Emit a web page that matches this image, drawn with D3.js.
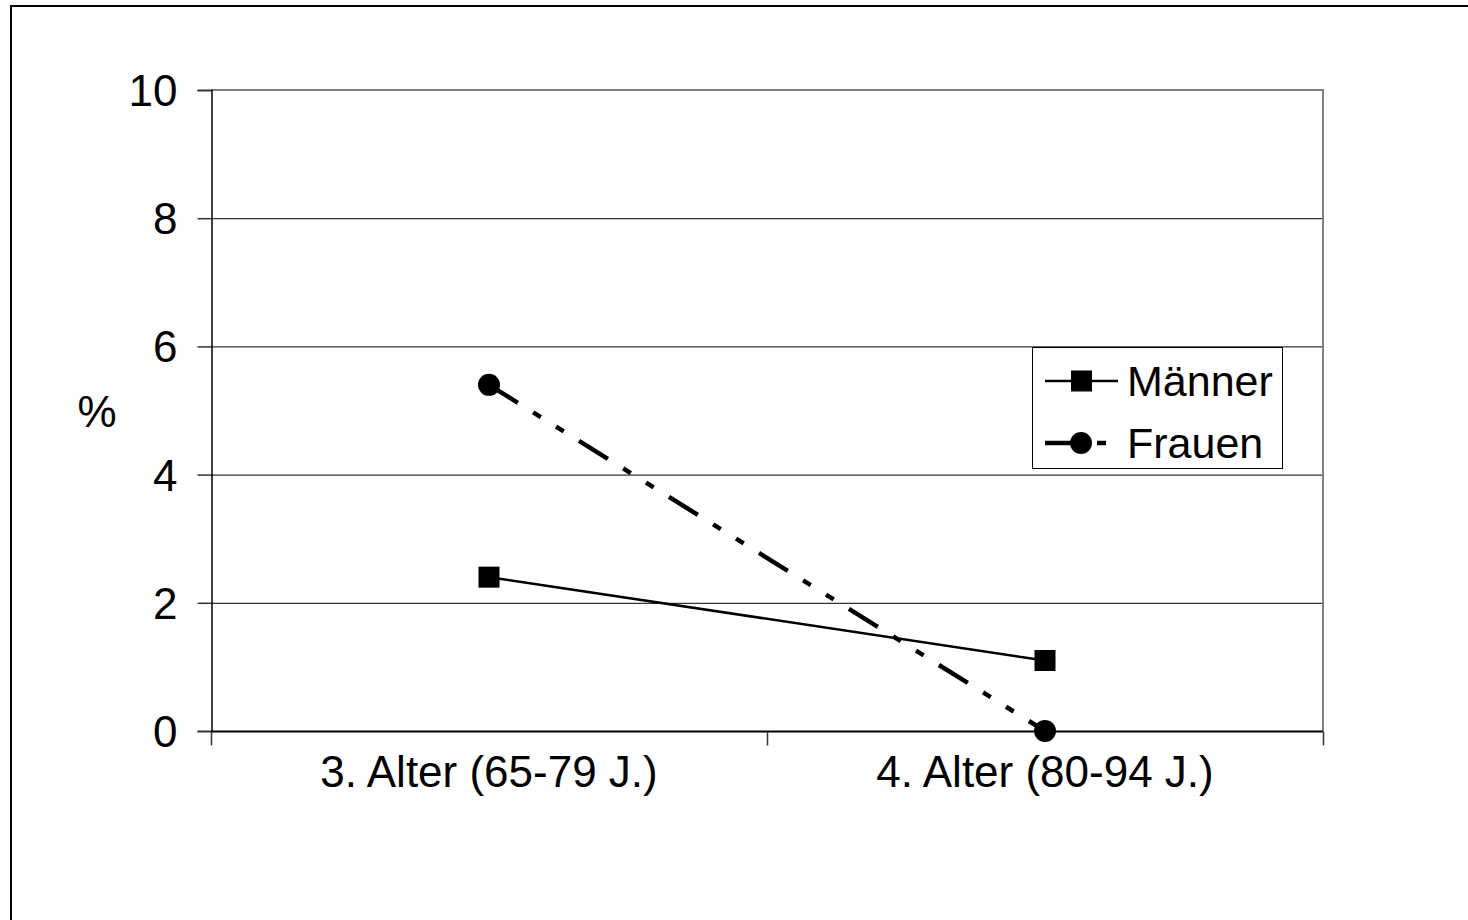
<!DOCTYPE html>
<html><head><meta charset="utf-8">
<script src="https://cdn.jsdelivr.net/npm/d3@7"></script>
<style>html,body{margin:0;padding:0;background:#fff;overflow:hidden}svg{display:block}text{font-family:"Liberation Sans",Arial,sans-serif;fill:#000}</style>
</head><body>
<script>
const categories = ["3. Alter (65-79 J.)", "4. Alter (80-94 J.)"];
const maenner = [2.4, 1.1];
const frauen = [5.4, 0.0];
const yTicks = [0, 2, 4, 6, 8, 10];
const seriesNames = ["Männer", "Frauen"];
const yLabel = "%";

const W = 1468, H = 920;
const svg = d3.select("body").append("svg").attr("width", W).attr("height", H);

// outer frame
svg.append("rect").attr("x", 11).attr("y", 6).attr("width", 1600).attr("height", 1200)
  .attr("fill", "none").attr("stroke", "#000").attr("stroke-width", 2);

const L = 211, R = 1323, T = 90, B = 731;
const x = d3.scaleBand().domain(categories).range([L, R]);
const y = d3.scaleLinear().domain([0, 10]).range([B, T]);
const cx = c => x(c) + x.bandwidth() / 2;

// gridlines
svg.append("g").selectAll("line").data(yTicks.filter(t => t > 0 && t < 10)).join("line")
  .attr("x1", L).attr("x2", R).attr("y1", d => y(d) + 0.5).attr("y2", d => y(d) + 0.5)
  .attr("stroke", "#000").attr("stroke-width", 1);

// plot border top and right (grey)
svg.append("line").attr("x1", L).attr("x2", R + 1).attr("y1", y(10)).attr("y2", y(10))
  .attr("stroke", "#808080").attr("stroke-width", 2);
svg.append("line").attr("x1", R).attr("x2", R).attr("y1", y(10)).attr("y2", B)
  .attr("stroke", "#808080").attr("stroke-width", 2);

// y axis
const yAxis = d3.axisLeft(y).tickValues(yTicks).tickSize(14).tickPadding(20).tickFormat(d3.format("d"));
const gy = svg.append("g").attr("transform", `translate(${L + 0.5},0)`).call(yAxis);
gy.select(".domain").attr("stroke", "#000").attr("stroke-width", 1.5);
gy.selectAll(".tick line").attr("stroke", "#333").attr("stroke-width", 1.5);
gy.selectAll(".tick text").attr("font-size", 44).attr("font-family", "Liberation Sans, Arial, sans-serif").attr("dy", "0.35em");

// x axis
const xAxis = d3.axisBottom(x).tickSize(0).tickPadding(24);
const gx = svg.append("g").attr("transform", `translate(0,${B + 0.5})`).call(xAxis);
gx.select(".domain").remove();
gx.append("line").attr("x1", L).attr("x2", R).attr("stroke", "#000").attr("stroke-width", 2);
gx.selectAll(".tick text").attr("font-size", 44).attr("font-family", "Liberation Sans, Arial, sans-serif").attr("dy", "0.71em");
// boundary ticks
const bounds = [L].concat(categories.map(c => x(c) + x.bandwidth()));
gx.selectAll(".btick").data(bounds).join("line").attr("class", "btick")
  .attr("x1", d => d + 0.5).attr("x2", d => d + 0.5).attr("y1", 0).attr("y2", 14)
  .attr("stroke", "#333").attr("stroke-width", 1.5);

// y label
svg.append("text").attr("x", 97).attr("y", 412).attr("text-anchor", "middle").attr("dy", "0.35em")
  .attr("font-size", 44).text(yLabel);

// lines
const line = d3.line().x((d, i) => cx(categories[i])).y(d => y(d));
svg.append("path").datum(frauen).attr("d", line).attr("fill", "none").attr("stroke", "#000")
  .attr("stroke-width", 4.5).attr("stroke-dasharray", "34 18 9 18 9 18");
svg.append("path").datum(maenner).attr("d", line).attr("fill", "none").attr("stroke", "#000")
  .attr("stroke-width", 2.5);

// markers
svg.append("g").selectAll("rect").data(maenner).join("rect")
  .attr("x", (d, i) => cx(categories[i]) - 10.5).attr("y", d => y(d) - 10.5)
  .attr("width", 21).attr("height", 21).attr("fill", "#000");
svg.append("g").selectAll("circle").data(frauen).join("circle")
  .attr("cx", (d, i) => cx(categories[i])).attr("cy", d => y(d)).attr("r", 11).attr("fill", "#000");

// legend
const lg = svg.append("g");
lg.append("rect").attr("x", 1032.5).attr("y", 347.5).attr("width", 250).attr("height", 121)
  .attr("fill", "#fff").attr("stroke", "#000").attr("stroke-width", 1);
const rows = [381, 443];
lg.append("line").attr("x1", 1045).attr("x2", 1118).attr("y1", rows[0]).attr("y2", rows[0])
  .attr("stroke", "#000").attr("stroke-width", 2.5);
lg.append("rect").attr("x", 1071).attr("y", rows[0] - 10.5).attr("width", 21).attr("height", 21).attr("fill", "#000");
lg.append("line").attr("x1", 1045).attr("x2", 1075).attr("y1", rows[1]).attr("y2", rows[1])
  .attr("stroke", "#000").attr("stroke-width", 4.5);
lg.append("line").attr("x1", 1097).attr("x2", 1106).attr("y1", rows[1]).attr("y2", rows[1])
  .attr("stroke", "#000").attr("stroke-width", 4.5);
lg.append("circle").attr("cx", 1081).attr("cy", rows[1]).attr("r", 11).attr("fill", "#000");
lg.selectAll("text.lt").data(seriesNames).join("text").attr("class", "lt")
  .attr("x", 1127).attr("y", (d, i) => rows[i]).attr("dy", "0.35em").attr("font-size", 43).text(d => d);
</script>
</body></html>
